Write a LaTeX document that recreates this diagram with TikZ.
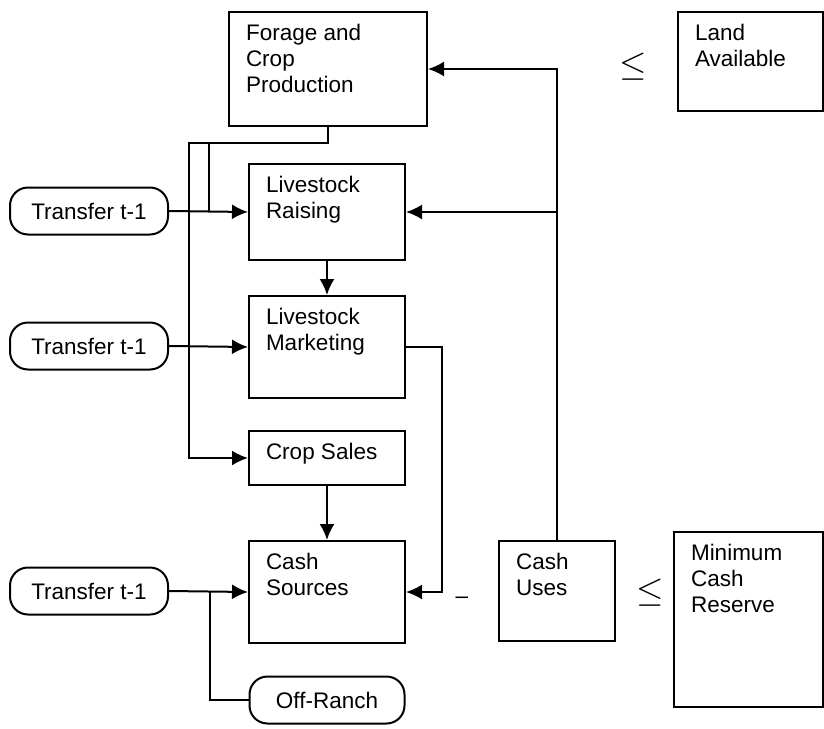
\documentclass[tikz,border=0pt]{standalone}
\usepackage{graphicx}
\usepackage{fontspec}
\setmainfont{Liberation Sans}
\usetikzlibrary{arrows.meta}

\begin{document}
\begin{tikzpicture}[
    x=1pt, y=-1pt,
    every node/.style={font=\fontsize{22.5}{26}\selectfont},
    box/.style={draw, line width=2pt, anchor=north west, inner xsep=17pt, inner ysep=12pt},
    oval/.style={draw, line width=2pt, rounded corners=18pt, minimum width=158pt, minimum height=47pt, inner sep=0pt},
    link/.style={line width=2pt},
    >={Latex[length=16pt, width=15pt]}
]
\useasboundingbox (0,0) rectangle (824,728);

% activity boxes
\node[box] (forage) at (228,11) {\parbox[t][90pt][t]{164pt}{Forage and\\Crop\\Production}};
\node[box] (land) at (677,11) {\parbox[t][75pt][t]{111pt}{Land\\Available}};
\node[box] (raise) at (248,163) {\parbox[t][72pt][t]{122pt}{Livestock\\Raising}};
\node[box] (market) at (248,295) {\parbox[t][78pt][t]{122pt}{Livestock\\Marketing}};
\node[box] (sales) at (248,430) {\parbox[t][30pt][t]{122pt}{Crop Sales}};
\node[box] (sources) at (248,540) {\parbox[t][78pt][t]{122pt}{Cash\\Sources}};
\node[box] (uses) at (498,540) {\parbox[t][76pt][t]{82pt}{Cash\\Uses}};
\node[box] (reserve) at (673,531) {\parbox[t][151pt][t]{115pt}{Minimum\\Cash\\Reserve}};

% transfers in
\node[oval] (t1) at (89,211) {Transfer t-1};
\node[oval] (t2) at (89,346) {Transfer t-1};
\node[oval] (t3) at (89,591) {Transfer t-1};
\node[oval, minimum width=155pt] (offr) at (327,700) {Off-Ranch};

% relations
\node[inner sep=0pt] (le1) at (633,67) {\scalebox{1.7}{$\leq$}};
\node[inner sep=0pt] (le2) at (650,593) {\scalebox{1.7}{$\leq$}};
\node (minus) at (462,600) {–};

\coordinate (split) at (189,143);
\coordinate (join1) at (209,143);
\coordinate (join3) at (210,591);

\draw[link, ->] (forage.south) |- (split) |- (sales.west);
\draw[link] (join1) -- (join1 |- raise.west);
\draw[link, ->] (t1.east) -- (raise.west);
\draw[link, ->] (t2.east) -- (market.west);
\draw[link, ->] (t3.east) -- (sources.west);
\draw[link] (offr.west) -| (join3);
\draw[link, ->] (raise.south) -- (market.north);
\draw[link, ->] (sales.south) -- (sources.north);
\draw[link, ->] (market.east) -- ++(36,0) |- (sources.east);
\draw[link, ->] (uses.north) |- (forage.east);
\draw[link, ->] (uses.north |- raise.east) -- (raise.east);
\end{tikzpicture}
\end{document}
